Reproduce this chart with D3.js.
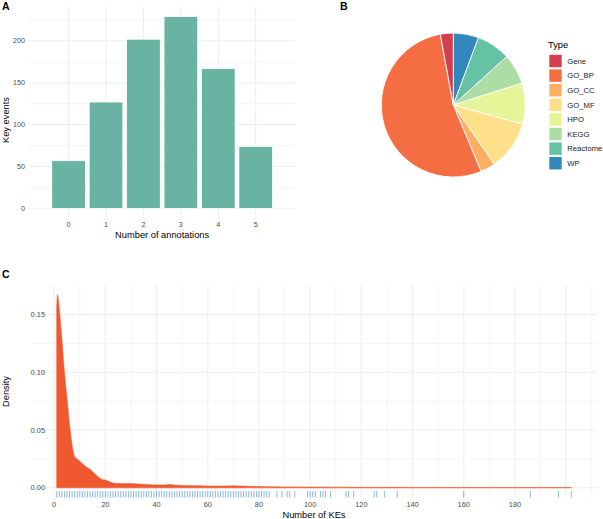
<!DOCTYPE html>
<html>
<head>
<meta charset="utf-8">
<script src="https://cdn.jsdelivr.net/npm/d3@7"></script>
<style>
  body { margin: 0; background: #fff; }
  svg { font-family: "Liberation Sans", Arial, Helvetica, sans-serif; }
</style>
</head>
<body>
<div id="chart"></div>
<script>
// ---- data ----
var annotCounts = [0, 1, 2, 3, 4, 5];
var keyEvents = [57, 127, 202, 229, 167, 74];
var yTicksA = [0, 50, 100, 150, 200];

var pieTypes = ["Gene", "GO_BP", "GO_CC", "GO_MF", "HPO", "KEGG", "Reactome", "WP"];
var pieValues = [29, 534, 33, 111, 92, 68, 76, 57];
var pieColors = ["#D53E4F", "#F46D43", "#FDAE61", "#FEE08B", "#E6F598", "#ABDDA4", "#66C2A5", "#3288BD"];

var keDensityX = [1, 1.3, 2, 3, 4, 5, 6, 7, 8, 9, 10, 11, 12, 13, 14, 15, 16, 17, 18, 19, 20, 21, 22, 23, 25, 28, 30, 33, 36, 40, 43, 45, 47, 50, 55, 60, 65, 70, 73, 76, 80, 85, 90, 100, 110, 120, 130, 140, 160, 180, 202];
var keDensityY = [0.156, 0.167, 0.155, 0.129, 0.100, 0.078, 0.055, 0.037, 0.027, 0.025, 0.023, 0.021, 0.019, 0.0175, 0.016, 0.014, 0.012, 0.010, 0.008, 0.007, 0.0068, 0.006, 0.005, 0.0042, 0.0037, 0.0036, 0.0037, 0.0033, 0.003, 0.0025, 0.0025, 0.003, 0.0024, 0.002, 0.0018, 0.0016, 0.0015, 0.0018, 0.0015, 0.0013, 0.0011, 0.0009, 0.0008, 0.0007, 0.0006, 0.0005, 0.0005, 0.0004, 0.0003, 0.0003, 0.0003];
var keRugExtra = [87, 89, 91, 92, 94, 99, 100, 101, 102, 104, 105, 106, 108, 114, 115, 117, 125, 126, 129, 134, 160, 186, 197, 202];
var keRug = d3.range(1, 85).concat(keRugExtra);
var xTicksC = [0, 20, 40, 60, 80, 100, 120, 140, 160, 180];
var yTicksC = [0, 0.05, 0.10, 0.15];

var W = 603, H = 519;
var grid = "#ebebeb", tickCol = "#4d4d4d";

var svg = d3.select("#chart").append("svg")
    .attr("width", W)
    .attr("height", H);

function panelLabel(t, x, y) {
    svg.append("text")
        .attr("x", x).attr("y", y)
        .attr("font-size", 10.5)
        .attr("font-weight", "bold")
        .text(t);
}

// ---- panel A : bars ----
var xA = d3.scaleLinear().domain([-1.05, 6.05]).range([29.3, 295]);
var yA = d3.scaleLinear().domain([-11.45, 240.45]).range([218, 7]);

var gA = svg.append("g");
gA.selectAll(".minorA")
    .data([25, 75, 125, 175, 225])
    .enter().append("line")
    .attr("x1", xA.range()[0]).attr("x2", xA.range()[1])
    .attr("y1", d => yA(d)).attr("y2", d => yA(d))
    .attr("stroke", grid).attr("stroke-width", 0.5);
gA.selectAll(".majorA")
    .data(yTicksA)
    .enter().append("line")
    .attr("x1", xA.range()[0]).attr("x2", xA.range()[1])
    .attr("y1", d => yA(d)).attr("y2", d => yA(d))
    .attr("stroke", grid).attr("stroke-width", 0.9);
gA.selectAll(".vA")
    .data(annotCounts)
    .enter().append("line")
    .attr("x1", d => xA(d)).attr("x2", d => xA(d))
    .attr("y1", yA.range()[0]).attr("y2", yA.range()[1])
    .attr("stroke", grid).attr("stroke-width", 0.9);

gA.selectAll("rect")
    .data(annotCounts)
    .enter().append("rect")
    .attr("x", d => xA(d - 0.45))
    .attr("width", xA(0.45) - xA(-0.45))
    .attr("y", (d, i) => yA(keyEvents[i]))
    .attr("height", (d, i) => yA(0) - yA(keyEvents[i]))
    .attr("fill", "#69b3a2")
    .attr("stroke", "white")
    .attr("stroke-width", 0.8);

gA.selectAll(".ylabA")
    .data(yTicksA)
    .enter().append("text")
    .attr("x", 25).attr("y", d => yA(d) + 2.5)
    .attr("text-anchor", "end")
    .attr("font-size", 7.2).attr("fill", tickCol)
    .text(d => d);
gA.selectAll(".xlabA")
    .data(annotCounts)
    .enter().append("text")
    .attr("x", d => xA(d)).attr("y", 226.8)
    .attr("text-anchor", "middle")
    .attr("font-size", 7.2).attr("fill", tickCol)
    .text(d => d);
gA.append("text")
    .attr("x", (xA.range()[0] + xA.range()[1]) / 2).attr("y", 238)
    .attr("text-anchor", "middle").attr("font-size", 9.3)
    .text("Number of annotations");
gA.append("text")
    .attr("transform", "translate(8.5,120) rotate(-90)")
    .attr("text-anchor", "middle").attr("font-size", 9.3)
    .text("Key events");
panelLabel("A", 2, 10);

// ---- panel B : pie ----
var pieOrder = ["WP", "Reactome", "KEGG", "HPO", "GO_MF", "GO_CC", "GO_BP", "Gene"];
var pieData = pieOrder.map(function(t) {
    var i = pieTypes.indexOf(t);
    return {type: t, value: pieValues[i], color: pieColors[i]};
});
var pie = d3.pie().sort(null).value(d => d.value);
var arc = d3.arc().innerRadius(0).outerRadius(72);
var gB = svg.append("g").attr("transform", "translate(453.3,105)");
gB.selectAll("path")
    .data(pie(pieData))
    .enter().append("path")
    .attr("d", arc)
    .attr("fill", d => d.data.color)
    .attr("stroke", "white")
    .attr("stroke-width", 0.9);
panelLabel("B", 340, 10);

var leg = svg.append("g").attr("transform", "translate(548,0)");
leg.append("text")
    .attr("x", 0).attr("y", 48.3)
    .attr("font-size", 9.3)
    .text("Type");
var legRows = leg.selectAll(".row")
    .data(pieTypes)
    .enter().append("g")
    .attr("transform", (d, i) => "translate(0," + (61 + i * 14.6) + ")");
legRows.append("rect")
    .attr("x", 1.3).attr("y", -6.2)
    .attr("width", 12.4).attr("height", 12.4)
    .attr("fill", (d, i) => pieColors[i]);
legRows.append("text")
    .attr("x", 19.3).attr("y", 2.8)
    .attr("font-size", 7.7).attr("fill", "#1a1a1a")
    .text(d => d);

// ---- panel C : density ----
var xC = d3.scaleLinear().domain([-9.05, 212.05]).range([31, 597]);
var yC = d3.scaleLinear().domain([-0.00835, 0.17535]).range([497.5, 285.3]);

var gC = svg.append("g");
gC.selectAll(".minorCx")
    .data(d3.range(10, 211, 20))
    .enter().append("line")
    .attr("x1", d => xC(d)).attr("x2", d => xC(d))
    .attr("y1", yC.range()[0]).attr("y2", yC.range()[1])
    .attr("stroke", grid).attr("stroke-width", 0.5);
gC.selectAll(".minorCy")
    .data([0.025, 0.075, 0.125])
    .enter().append("line")
    .attr("x1", xC.range()[0]).attr("x2", xC.range()[1])
    .attr("y1", d => yC(d)).attr("y2", d => yC(d))
    .attr("stroke", grid).attr("stroke-width", 0.5);
gC.selectAll(".majorCx")
    .data(d3.range(0, 201, 20))
    .enter().append("line")
    .attr("x1", d => xC(d)).attr("x2", d => xC(d))
    .attr("y1", yC.range()[0]).attr("y2", yC.range()[1])
    .attr("stroke", grid).attr("stroke-width", 0.9);
gC.selectAll(".majorCy")
    .data(yTicksC)
    .enter().append("line")
    .attr("x1", xC.range()[0]).attr("x2", xC.range()[1])
    .attr("y1", d => yC(d)).attr("y2", d => yC(d))
    .attr("stroke", grid).attr("stroke-width", 0.9);

var dens = keDensityX.map((x, i) => [x, keDensityY[i]]);
var area = d3.area()
    .x(d => xC(d[0]))
    .y0(yC(0))
    .y1(d => yC(d[1]))
    .curve(d3.curveMonotoneX);
gC.append("path")
    .datum(dens)
    .attr("d", area)
    .attr("fill", "#f0582f")
    .attr("stroke", "#f0582f")
    .attr("stroke-width", 0.6);

gC.selectAll(".rug")
    .data(keRug)
    .enter().append("line")
    .attr("x1", d => xC(d)).attr("x2", d => xC(d))
    .attr("y1", yC.range()[0]).attr("y2", yC.range()[0] - 6.4)
    .attr("stroke", "#3f86c4")
    .attr("stroke-opacity", 0.75)
    .attr("stroke-width", 0.8);

gC.selectAll(".ylabC")
    .data(yTicksC)
    .enter().append("text")
    .attr("x", 45).attr("y", d => yC(d) + 2.6)
    .attr("text-anchor", "end")
    .attr("font-size", 7.4).attr("fill", tickCol)
    .text(d => d.toFixed(2));
gC.selectAll(".xlabC")
    .data(xTicksC)
    .enter().append("text")
    .attr("x", d => xC(d)).attr("y", 507)
    .attr("text-anchor", "middle")
    .attr("font-size", 7.4).attr("fill", tickCol)
    .text(d => d);
gC.append("text")
    .attr("x", (xC.range()[0] + xC.range()[1]) / 2).attr("y", 518)
    .attr("text-anchor", "middle").attr("font-size", 9.3)
    .text("Number of KEs");
gC.append("text")
    .attr("transform", "translate(8.5,391.5) rotate(-90)")
    .attr("text-anchor", "middle").attr("font-size", 9.3)
    .text("Density");
panelLabel("C", 2, 278);
</script>
</body>
</html>
